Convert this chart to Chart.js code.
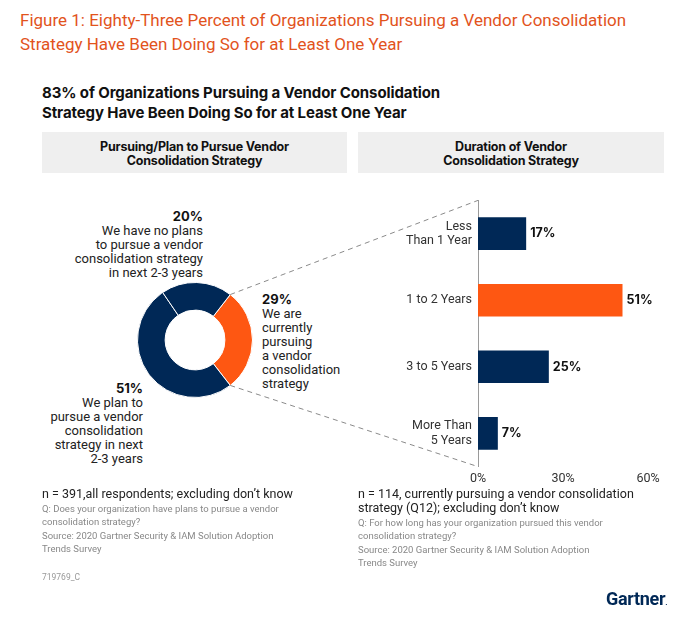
<!DOCTYPE html>
<html>
<head>
<meta charset="utf-8">
<title>Vendor Consolidation Strategy</title>
<script src="https://cdn.jsdelivr.net/npm/chart.js@4/dist/chart.umd.min.js"></script>
<style>
	body { margin: 0; background: #fff; font-family: Roboto, sans-serif; }
	#page { position: relative; width: 690px; height: 627px; overflow: hidden; }
	.abs { position: absolute; }
	#titulo { left: 20px; top: 8px; font-size: 17px; line-height: 24px; color: #E2531C; letter-spacing: 0; }
	#subtitulo { left: 42px; top: 83px; font-family: Inter, sans-serif; font-weight: 700; font-size: 15px; line-height: 20px; color: #111; letter-spacing: -0.1px; }
	.cabecera { top: 132px; height: 41px; background: #efefef; font-family: Inter, sans-serif; font-weight: 700; font-size: 12.5px; line-height: 14px; color: #111; text-align: center; display: flex; align-items: center; justify-content: center; letter-spacing: -0.2px; padding-top: 2px; box-sizing: border-box; }
	.etiqueta { font-size: 13px; line-height: 14px; color: #222; }
	.etiqueta b { font-family: Inter, sans-serif; font-size: 13px; color: #111; }
	.nota { font-size: 12.5px; line-height: 14px; color: #222; }
	.nota small { display: block; font-size: 9.5px; line-height: 13.3px; color: #888; margin-top: 1px; }
	#codigo { left: 42px; top: 572px; font-size: 8.5px; color: #999; }
	#logo { left: 606px; top: 588px; font-size: 18px; font-weight: 700; color: #002856; letter-spacing: -0.3px; }
	#donut { left: 125px; top: 270px; }
	#barras { left: 360px; top: 180px; }
	#lineas { left: 0; top: 0; pointer-events: none; }
</style>
</head>
<body>
<div id="page">
	<div id="titulo" class="abs">Figure 1: Eighty-Three Percent of Organizations Pursuing a Vendor Consolidation<br>Strategy Have Been Doing So for at Least One Year</div>
	<div id="subtitulo" class="abs">83% of Organizations Pursuing a Vendor Consolidation<br>Strategy Have Been Doing So for at Least One Year</div>
	<div class="abs cabecera" style="left:42px;width:305px;">Pursuing/Plan to Pursue Vendor<br>Consolidation Strategy</div>
	<div class="abs cabecera" style="left:358px;width:306px;">Duration of Vendor<br>Consolidation Strategy</div>

	<div id="lbl0" class="abs etiqueta" style="left:262px;top:292px;text-align:left;"></div>
	<div id="lbl1" class="abs etiqueta" style="right:547px;top:381px;text-align:right;"></div>
	<div id="lbl2" class="abs etiqueta" style="right:487px;top:209px;text-align:right;"></div>

	<canvas id="donut" class="abs" width="140" height="140"></canvas>
	<canvas id="barras" class="abs" width="310" height="307"></canvas>
	<canvas id="lineas" class="abs" width="690" height="627"></canvas>

	<div class="abs nota" style="left:42px;top:487px;">n = 391,all respondents; excluding don’t know
		<small>Q: Does your organization have plans to pursue a vendor<br>consolidation strategy?<br>Source: 2020 Gartner Security &amp; IAM Solution Adoption<br>Trends Survey</small></div>
	<div class="abs nota" style="left:358px;top:487px;">n = 114, currently pursuing a vendor consolidation<br>strategy (Q12); excluding don’t know
		<small>Q: For how long has your organization pursued this vendor<br>consolidation strategy?<br>Source: 2020 Gartner Security &amp; IAM Solution Adoption<br>Trends Survey</small></div>
	<div id="codigo" class="abs">719769_C</div>
	<div id="logo" class="abs">Gartner<span style="font-size:8px;">.</span></div>
</div>

<script>
// datos del donut (orden de las porciones en sentido horario)
var donutValues = [29, 51, 20];
var donutLines = [
	['We are', 'currently', 'pursuing', 'a vendor', 'consolidation', 'strategy'],
	['We plan to', 'pursue a vendor', 'consolidation', 'strategy in next', '2-3 years'],
	['We have no plans', 'to pursue a vendor', 'consolidation strategy', 'in next 2-3 years']
];
// datos de las barras
var durationLabels = [['Less', 'Than 1 Year'], '1 to 2 Years', '3 to 5 Years', ['More Than', '5 Years']];
var durationValues = [17, 51, 25, 7];
var xTicks = [0, 30, 60];

var navy = '#002856';
var naranja = '#FE5712';

donutValues.forEach(function (v, i) {
	document.getElementById('lbl' + i).innerHTML = '<b>' + v + '%</b><br>' + donutLines[i].join('<br>');
});

var donut = new Chart(document.getElementById('donut'), {
	type: 'doughnut',
	data: {
		labels: ['Pursuing', 'Plan', 'No plans'],
		datasets: [{
			data: donutValues,
			backgroundColor: [naranja, navy, navy],
			borderColor: '#fff',
			borderWidth: 1
		}]
	},
	options: {
		responsive: false,
		animation: false,
		rotation: 37.8,
		cutout: '52%',
		layout: { padding: 12 },
		plugins: { legend: { display: false }, tooltip: { enabled: false } }
	}
});

// etiquetas de valor al final de cada barra
var valorBarras = {
	id: 'valorBarras',
	afterDatasetsDraw: function (chart) {
		let ctx = chart.ctx;
		ctx.save();
		ctx.font = '700 12.5px Inter, sans-serif';
		ctx.fillStyle = '#111';
		ctx.textBaseline = 'middle';
		chart.getDatasetMeta(0).data.forEach(function (bar, i) {
			ctx.fillText(durationValues[i] + '%', bar.x + 4, bar.y);
		});
		ctx.restore();
	}
};

var barras = new Chart(document.getElementById('barras'), {
	type: 'bar',
	data: {
		labels: durationLabels,
		datasets: [{
			data: durationValues,
			backgroundColor: durationValues.map(function (v, i) { return i === 1 ? naranja : navy; }),
			barPercentage: 0.49,
			categoryPercentage: 1
		}]
	},
	options: {
		indexAxis: 'y',
		responsive: false,
		animation: false,
		layout: { padding: { top: 8, right: 22, left: 0, bottom: 0 } },
		scales: {
			x: {
				min: xTicks[0],
				max: xTicks[xTicks.length - 1],
				afterBuildTicks: function (axis) { axis.ticks = xTicks.map(function (v) { return { value: v }; }); },
				afterFit: function (axis) { axis.height = 20; },
				grid: { display: false, drawTicks: false },
				border: { display: false },
				ticks: { padding: 5, color: '#333', font: { family: 'Roboto', size: 12.5 }, callback: function (v) { return v + '%'; } }
			},
			y: {
				afterFit: function (axis) { axis.width = 118; },
				grid: { display: false, drawTicks: false },
				border: { display: true, color: '#9a9a9a', width: 1 },
				ticks: { padding: 6, color: '#333', font: { family: 'Roboto', size: 12.5, lineHeight: 1.15 } }
			}
		},
		plugins: { legend: { display: false }, tooltip: { enabled: false } }
	},
	plugins: [valorBarras]
});

// lineas punteadas que unen la porcion naranja con el eje de las barras
function dibujarLineas() {
	let ctx = document.getElementById('lineas').getContext('2d');
	let page = document.getElementById('page').getBoundingClientRect();
	let rd = donut.canvas.getBoundingClientRect();
	let rb = barras.canvas.getBoundingClientRect();
	let arco = donut.getDatasetMeta(0).data[0];
	let p1 = { x: rd.left - page.left + arco.x + arco.outerRadius * Math.cos(arco.startAngle), y: rd.top - page.top + arco.y + arco.outerRadius * Math.sin(arco.startAngle) };
	let p2 = { x: rd.left - page.left + arco.x + arco.outerRadius * Math.cos(arco.endAngle), y: rd.top - page.top + arco.y + arco.outerRadius * Math.sin(arco.endAngle) };
	let ax = rb.left - page.left + barras.scales.x.left;
	let top = rb.top - page.top + barras.scales.y.top;
	let bottom = rb.top - page.top + barras.scales.y.bottom;
	ctx.strokeStyle = '#8a8a8a';
	ctx.lineWidth = 1;
	ctx.setLineDash([5, 4]);
	ctx.beginPath();
	ctx.moveTo(p1.x, p1.y);
	ctx.lineTo(ax, top);
	ctx.moveTo(p2.x, p2.y);
	ctx.lineTo(ax, bottom);
	ctx.stroke();
}
dibujarLineas();
</script>
</body>
</html>
